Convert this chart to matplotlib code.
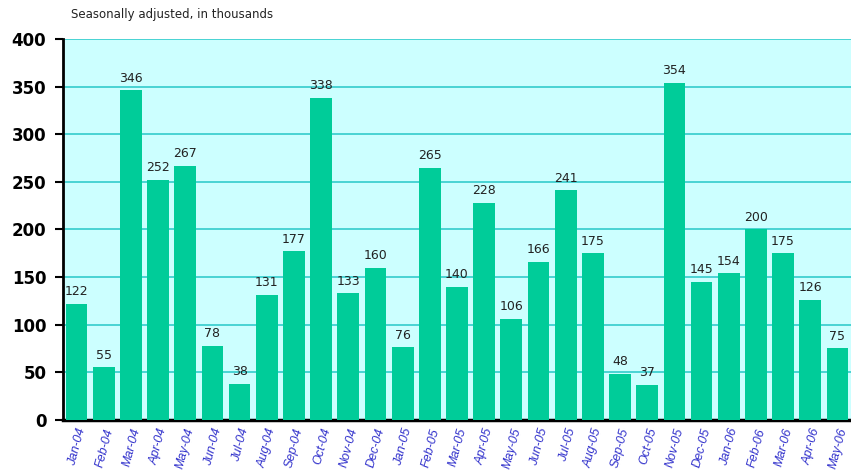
import matplotlib.pyplot as plt
import numpy as np

months = ["Jan-04", "Feb-04", "Mar-04", "Apr-04", "May-04", "Jun-04", "Jul-04", "Aug-04",
          "Sep-04", "Oct-04", "Nov-04", "Dec-04", "Jan-05", "Feb-05", "Mar-05", "Apr-05",
          "May-05", "Jun-05", "Jul-05", "Aug-05", "Sep-05", "Oct-05", "Nov-05", "Dec-05",
          "Jan-06", "Feb-06", "Mar-06", "Apr-06", "May-06"]
jobs = [122, 55, 346, 252, 267, 78, 38, 131, 177, 338, 133, 160, 76, 265, 140, 228,
        106, 166, 241, 175, 48, 37, 354, 145, 154, 200, 175, 126, 75]
yticks = [0, 50, 100, 150, 200, 250, 300, 350, 400]

fig = plt.figure(figsize=(8.51, 4.76), dpi=100)
ax = fig.add_axes([0.074, 0.118, 0.926, 0.8])
ax.set_facecolor("#ccffff")

x = np.arange(len(months))
ax.bar(x, jobs, width=0.8, color="#00cc99", zorder=3)
for xi, v in zip(x, jobs):
    ax.text(xi, v + 6, str(v), ha="center", va="bottom", fontsize=9, color="#222222", zorder=4)

ax.set_xlim(-0.5, len(months) - 0.5)
ax.set_ylim(0, 400)
ax.set_yticks(yticks)
ax.set_yticklabels([str(t) for t in yticks], fontsize=12, fontweight="bold")
ax.yaxis.grid(True, color="#33cccc", linewidth=1.2, zorder=1)
ax.set_xticks(x)
ax.set_xticklabels(months, rotation=75, ha="right", rotation_mode="anchor",
                   fontsize=9, style="italic", color="#3333cc", family="Liberation Sans")
ax.tick_params(axis="x", length=0, pad=5)
ax.tick_params(axis="y", length=6, width=1.5, direction="out", pad=6)

for s in ["top", "right"]:
    ax.spines[s].set_visible(False)
ax.spines["left"].set_linewidth(2)
ax.spines["bottom"].set_linewidth(2.5)

fig.text(0.083, 0.963, "Seasonally adjusted, in thousands", fontsize=8.5, color="#222222")

fig.savefig("out.png", dpi=100)
